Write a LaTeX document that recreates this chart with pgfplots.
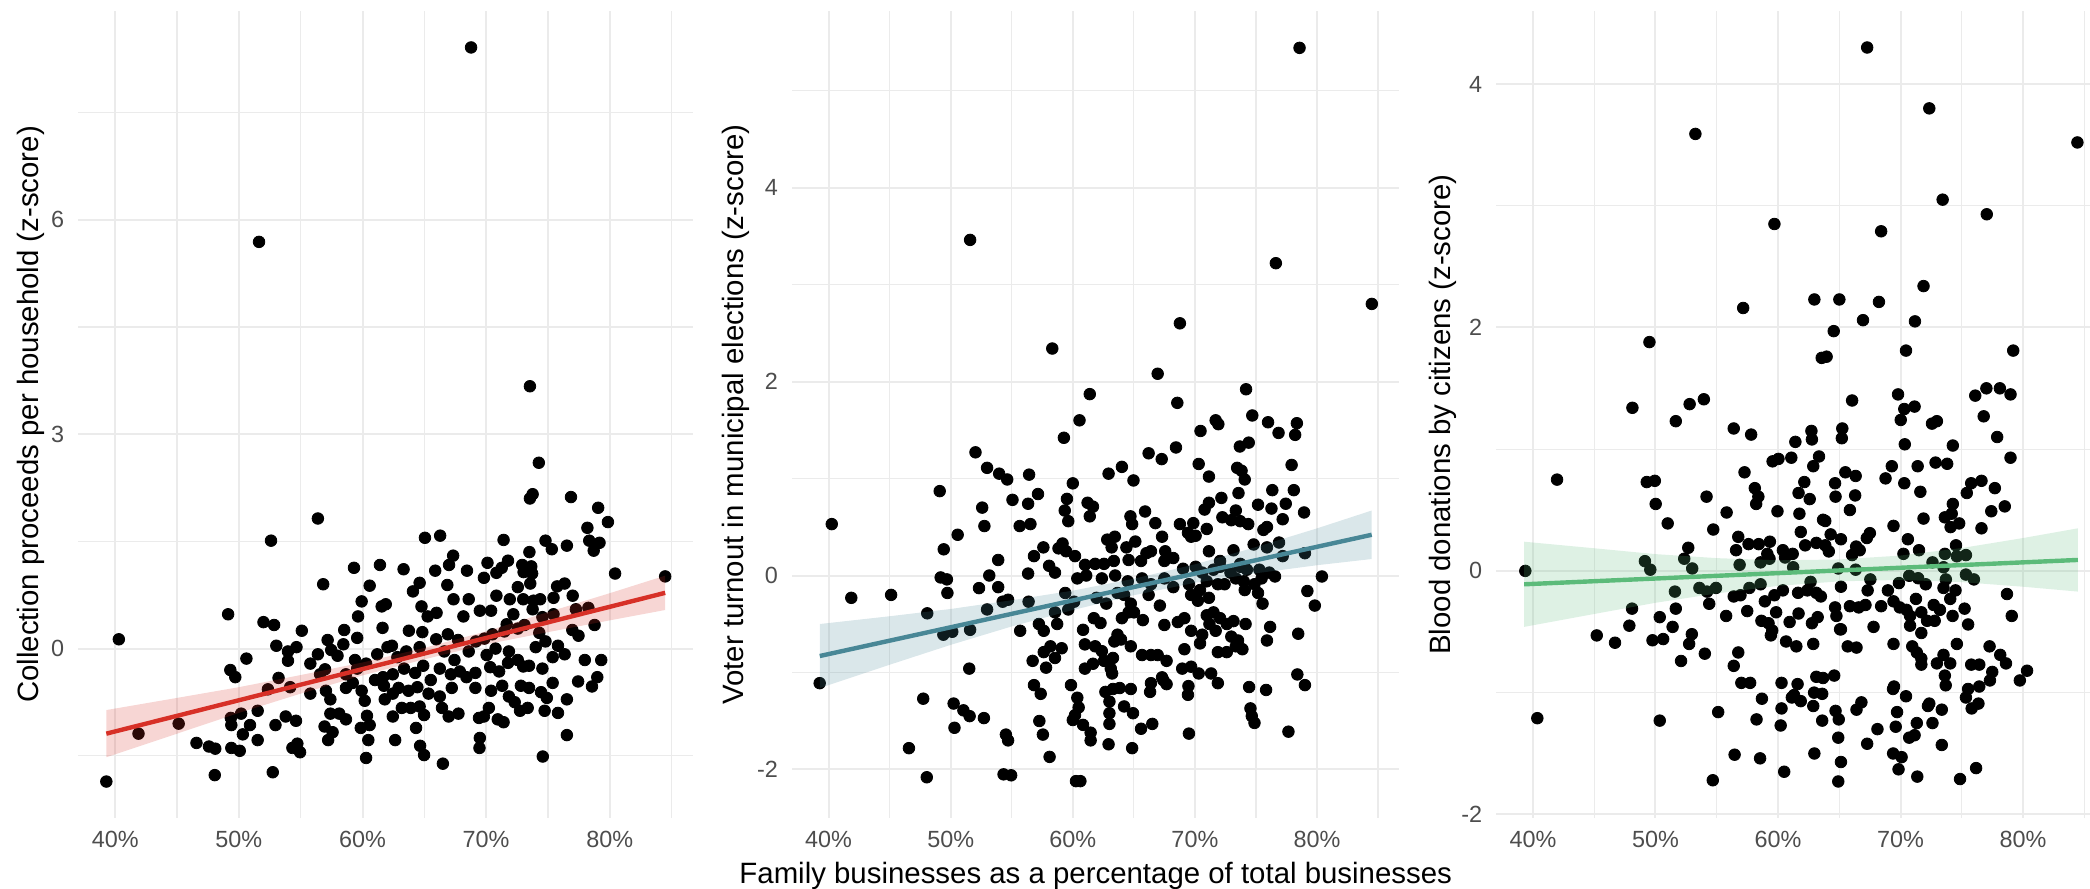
\documentclass[border=0pt]{standalone}
\usepackage{pgfplots}
\pgfplotsset{compat=1.18}
\usepackage{fontspec}
\setmainfont{Liberation Sans}
\definecolor{gridc}{HTML}{EBEBEB}
\definecolor{tickc}{HTML}{4D4D4D}
\definecolor{redl}{RGB}{215,48,39}
\definecolor{bluel}{RGB}{72,135,150}
\definecolor{greenl}{RGB}{92,187,122}
\pgfplotsset{
 panel/.style={
  scale only axis, height=403.5pt, anchor=south west,
  xmin=37.02, xmax=86.74,
  xtick={40,50,60,70,80}, xticklabels={40\%,50\%,60\%,70\%,80\%},
  minor xtick={45,55,65,75,85},
  grid=both,
  major grid style={gridc, line width=1pt},
  minor grid style={gridc, line width=0.6pt},
  axis line style={draw=none},
  tick style={draw=none},
  ticklabel style={font=\fontsize{11.7}{14}\selectfont, text=tickc},
  xticklabel style={anchor=base, yshift=-14.7pt, inner sep=0pt},
  yticklabel style={anchor=east, inner sep=0pt, xshift=-6.9pt},
  clip marker paths=true,
 },
 pts/.style={only marks, mark=*, mark size=2.9pt, mark options={fill=black, draw=none}},
}
\begin{document}
\begin{tikzpicture}
\path[use as bounding box] (0,0) rectangle (1045pt,444.5pt);
% Panel 1
\begin{axis}[panel, at={(39.2pt,35.5pt)}, width=307.35pt,
  ymin=-2.37, ymax=8.92, ytick={0,3,6}, yticklabels={0,3,6}, minor ytick={-1.5,1.5,4.5,7.5}]
\addplot[pts] coordinates {(68.78,8.41)(51.63,5.69)(73.54,3.67)(74.26,2.60)(73.54,2.10)(73.76,2.16)(76.86,2.12)(56.39,1.82)(52.60,1.51)(65.05,1.55)(66.28,1.58)(71.41,1.52)(74.80,1.51)(75.31,1.39)(76.53,1.44)(79.06,1.97)(79.85,1.77)(78.19,1.69)(78.34,1.51)(79.17,1.48)(78.70,1.37)(73.50,1.35)(67.33,1.30)(67.00,1.17)(68.45,1.09)(70.11,1.20)(71.26,1.13)(71.77,1.23)(72.92,1.17)(73.65,1.15)(73.03,1.07)(73.72,1.05)(61.41,1.17)(59.31,1.13)(63.32,1.11)(80.43,1.05)(84.48,1.01)(65.88,1.09)(56.82,0.90)(60.58,0.88)(64.62,0.92)(64.08,0.80)(66.86,0.89)(69.82,0.99)(70.83,1.06)(72.56,0.86)(73.57,0.91)(76.35,0.91)(75.74,0.87)(68.59,0.69)(67.36,0.69)(70.83,0.74)(71.91,0.69)(73.00,0.69)(73.83,0.67)(74.37,0.69)(75.45,0.71)(77.00,0.74)(49.13,0.48)(59.93,0.66)(59.64,0.45)(61.55,0.59)(61.88,0.62)(64.77,0.59)(65.99,0.50)(65.27,0.45)(68.16,0.45)(69.49,0.53)(70.40,0.53)(72.20,0.48)(71.66,0.34)(73.76,0.55)(74.55,0.44)(75.45,0.48)(77.26,0.55)(78.27,0.57)(51.99,0.37)(52.85,0.33)(55.09,0.25)(57.18,0.12)(58.45,0.06)(58.52,0.26)(59.57,0.15)(61.62,0.29)(63.75,0.25)(64.84,0.23)(66.90,0.20)(67.73,0.12)(69.17,0.10)(69.86,0.14)(70.51,0.20)(71.48,0.24)(72.56,0.28)(73.10,0.33)(74.30,0.22)(74.80,0.10)(76.97,0.26)(77.47,0.18)(78.77,0.33)(53.03,0.04)(53.97,-0.04)(54.66,0.02)(50.61,-0.14)(53.97,-0.17)(56.39,-0.08)(57.47,-0.02)(57.98,-0.10)(59.39,-0.16)(61.19,-0.08)(62.02,0.02)(62.38,0.04)(62.82,-0.12)(63.54,-0.04)(64.62,0.02)(65.96,0.13)(66.61,-0.04)(67.44,-0.16)(68.59,-0.04)(70.04,-0.09)(70.76,0.00)(71.84,-0.04)(72.56,-0.16)(74.01,0.02)(75.81,0.04)(76.35,-0.08)(79.31,-0.16)(77.98,-0.16)(75.38,-0.12)(49.31,-0.30)(49.71,-0.40)(53.21,-0.41)(55.78,-0.21)(56.57,-0.36)(56.97,-0.29)(58.66,-0.36)(59.57,-0.28)(60.29,-0.21)(61.01,-0.44)(61.66,-0.40)(62.45,-0.36)(63.36,-0.28)(64.26,-0.34)(64.91,-0.24)(65.52,-0.44)(66.25,-0.28)(67.15,-0.36)(67.87,-0.32)(68.41,-0.40)(69.13,-0.34)(70.33,-0.26)(71.05,-0.32)(71.77,-0.20)(73.00,-0.25)(73.47,-0.24)(74.55,-0.28)(75.38,-0.48)(78.99,-0.40)(78.56,-0.53)(77.44,-0.46)(52.35,-0.57)(54.15,-0.54)(55.78,-0.63)(57.04,-0.59)(57.40,-0.71)(58.66,-0.55)(59.21,-0.48)(59.93,-0.59)(61.73,-0.52)(62.45,-0.63)(62.92,-0.55)(63.72,-0.59)(64.44,-0.54)(65.34,-0.63)(66.25,-0.67)(67.22,-0.55)(69.13,-0.55)(70.40,-0.59)(71.30,-0.52)(71.84,-0.67)(72.81,-0.52)(73.47,-0.55)(74.44,-0.61)(74.91,-0.69)(76.53,-0.71)(49.35,-0.97)(50.18,-0.91)(51.52,-0.87)(50.90,-1.07)(53.79,-0.95)(54.62,-1.01)(57.40,-0.91)(58.12,-0.91)(58.66,-0.99)(60.18,-0.73)(60.36,-0.94)(61.80,-0.71)(62.45,-0.95)(63.18,-0.83)(63.90,-0.83)(64.62,-0.81)(64.98,-0.93)(66.43,-0.83)(66.97,-0.95)(67.76,-0.91)(69.42,-0.97)(70.22,-0.83)(70.94,-0.99)(71.41,-1.03)(72.31,-0.75)(72.74,-0.87)(73.36,-0.83)(74.73,-0.87)(75.81,-0.90)(45.13,-1.05)(41.88,-1.19)(49.39,-1.07)(52.96,-1.07)(56.93,-1.09)(57.58,-1.17)(59.86,-1.11)(60.58,-1.07)(64.33,-1.11)(69.82,-0.95)(46.57,-1.32)(47.58,-1.37)(48.09,-1.40)(49.39,-1.39)(50.07,-1.43)(50.32,-1.20)(51.52,-1.28)(54.33,-1.39)(54.73,-1.33)(54.95,-1.45)(57.22,-1.28)(60.47,-1.28)(62.64,-1.28)(64.66,-1.36)(64.98,-1.49)(60.29,-1.53)(69.49,-1.25)(69.46,-1.39)(76.53,-1.21)(74.58,-1.51)(66.50,-1.61)(52.74,-1.73)(48.05,-1.77)(39.28,-1.86)(40.29,0.13)};
\addplot[fill=redl, fill opacity=0.2, draw=none] coordinates {(39.28,-1.52)(45,-1.19)(50,-0.90)(55,-0.63)(60,-0.375)(65,-0.15)(70,0.06)(75,0.23)(80,0.395)(84.48,0.54)(84.48,1.02)(80,0.775)(75,0.51)(70,0.24)(65,0.01)(60,-0.195)(55,-0.37)(50,-0.54)(45,-0.69)(39.28,-0.86)};
\addplot[redl, line width=2.2pt] coordinates {(39.28,-1.19)(84.48,0.78)};
\end{axis}
% Panel 2
\begin{axis}[panel, at={(396.1pt,35.5pt)}, width=303.55pt,
  ymin=-2.50, ymax=5.82, ytick={-2,0,2,4}, yticklabels={-2,0,2,4}, minor ytick={-1,1,3,5}]
\addplot[pts] coordinates {(78.57,5.44)(51.59,3.46)(76.63,3.22)(84.49,2.80)(68.77,2.60)(58.32,2.34)(66.95,2.08)(74.19,1.92)(61.39,1.87)(68.56,1.78)(60.55,1.60)(74.70,1.65)(75.99,1.58)(71.70,1.60)(71.92,1.56)(78.35,1.57)(78.21,1.45)(76.85,1.47)(70.46,1.49)(59.27,1.42)(73.68,1.33)(74.41,1.37)(66.21,1.26)(68.45,1.32)(67.28,1.20)(52.03,1.27)(52.98,1.11)(53.97,1.05)(54.63,0.99)(56.42,1.04)(57.15,0.84)(64.02,1.12)(62.93,1.05)(64.97,0.98)(70.31,1.15)(71.15,1.02)(73.46,1.11)(73.82,1.08)(74.08,0.99)(77.92,1.14)(49.10,0.87)(55.06,0.78)(56.34,0.74)(59.52,0.79)(59.34,0.67)(60.00,0.95)(61.21,0.75)(61.65,0.71)(61.39,0.61)(52.58,0.70)(52.76,0.51)(55.65,0.51)(56.53,0.53)(59.63,0.56)(65.92,0.66)(64.72,0.61)(64.86,0.53)(66.76,0.54)(72.17,0.80)(71.15,0.75)(70.79,0.68)(73.57,0.85)(73.35,0.67)(76.34,0.88)(77.44,0.74)(76.27,0.69)(77.19,0.58)(78.10,0.88)(78.94,0.65)(72.25,0.60)(72.98,0.57)(73.71,0.56)(74.37,0.53)(75.17,0.73)(75.90,0.50)(75.61,0.47)(50.57,0.42)(40.26,0.53)(49.43,0.27)(68.77,0.53)(69.87,0.54)(70.97,0.48)(70.06,0.41)(69.43,0.44)(69.69,0.40)(67.31,0.40)(63.44,0.40)(74.81,0.32)(76.89,0.34)(77.19,0.20)(75.90,0.29)(79.01,0.23)(57.59,0.29)(56.82,0.20)(58.83,0.28)(59.45,0.25)(59.16,0.33)(60.18,0.20)(62.82,0.37)(63.18,0.29)(64.39,0.29)(65.12,0.35)(66.03,0.23)(65.59,0.15)(66.40,0.25)(67.57,0.25)(71.15,0.25)(72.06,0.15)(73.16,0.26)(73.71,0.12)(53.89,0.16)(58.06,0.10)(58.54,0.03)(61.00,0.11)(61.83,0.12)(62.56,0.12)(63.36,0.15)(64.57,0.16)(67.50,0.15)(68.23,0.18)(69.03,0.07)(70.06,0.09)(70.60,0.03)(71.52,0.06)(72.06,0.09)(72.91,0.03)(73.71,0.09)(74.26,0.06)(75.28,0.06)(76.09,0.03)(76.56,-0.01)(80.40,-0.01)(49.18,-0.02)(49.69,-0.04)(53.16,0.00)(56.34,0.02)(60.37,-0.03)(61.10,0.00)(62.38,-0.03)(63.47,0.00)(64.50,-0.06)(65.67,-0.03)(66.40,-0.09)(67.50,-0.03)(68.23,-0.12)(69.51,-0.09)(70.42,-0.15)(70.97,-0.06)(71.88,-0.09)(72.43,-0.09)(73.35,-0.03)(74.00,-0.06)(74.88,-0.09)(75.46,-0.03)(74.08,-0.15)(75.17,-0.18)(79.21,-0.16)(52.32,-0.13)(49.73,-0.18)(53.89,-0.12)(54.26,-0.27)(54.70,-0.25)(41.86,-0.23)(45.12,-0.20)(59.38,-0.18)(60.11,-0.27)(59.63,-0.35)(61.94,-0.23)(62.74,-0.29)(63.66,-0.18)(64.20,-0.20)(64.75,-0.29)(65.01,-0.38)(66.21,-0.20)(67.13,-0.31)(69.69,-0.20)(70.24,-0.26)(71.15,-0.23)(75.54,-0.29)(79.82,-0.31)(56.38,-0.27)(52.98,-0.35)(48.08,-0.39)(58.54,-0.38)(58.72,-0.50)(61.72,-0.44)(62.27,-0.49)(64.02,-0.44)(64.57,-0.38)(65.74,-0.46)(67.50,-0.51)(68.60,-0.48)(69.14,-0.44)(70.97,-0.41)(71.52,-0.38)(72.06,-0.44)(72.61,-0.50)(73.16,-0.47)(74.15,-0.50)(71.19,-0.50)(71.70,-0.57)(57.22,-0.50)(57.62,-0.57)(51.59,-0.56)(55.69,-0.57)(69.69,-0.57)(70.60,-0.61)(70.42,-0.70)(76.16,-0.53)(75.90,-0.67)(78.46,-0.60)(49.40,-0.61)(50.13,-0.58)(60.84,-0.56)(60.99,-0.71)(63.66,-0.61)(63.95,-0.66)(63.40,-0.68)(64.75,-0.73)(72.98,-0.63)(73.53,-0.67)(73.35,-0.73)(73.89,-0.76)(58.17,-0.73)(59.09,-0.75)(61.83,-0.73)(62.38,-0.78)(69.14,-0.76)(72.61,-0.79)(57.62,-0.79)(58.54,-0.85)(60.99,-0.96)(61.65,-0.91)(62.56,-0.88)(63.29,-0.85)(63.11,-0.96)(65.67,-0.82)(66.40,-0.82)(66.95,-0.82)(67.68,-0.88)(71.88,-0.79)(56.71,-0.88)(57.81,-0.95)(51.52,-0.96)(68.96,-0.96)(69.69,-0.94)(70.31,-1.01)(71.33,-1.01)(71.88,-1.11)(67.31,-1.05)(66.40,-1.11)(67.42,-1.08)(67.68,-1.12)(63.22,-1.01)(69.47,-1.14)(69.43,-1.23)(78.39,-1.02)(79.01,-1.13)(56.82,-1.13)(57.37,-1.22)(59.85,-1.13)(62.67,-1.20)(63.29,-1.17)(63.84,-1.16)(64.75,-1.17)(66.33,-1.20)(74.44,-1.15)(75.83,-1.18)(60.37,-1.26)(60.48,-1.36)(60.18,-1.44)(63.00,-1.30)(63.00,-1.42)(64.20,-1.35)(64.93,-1.42)(74.55,-1.37)(74.66,-1.45)(74.88,-1.52)(50.24,-1.32)(51.04,-1.39)(51.55,-1.45)(52.72,-1.47)(47.75,-1.27)(50.31,-1.57)(57.26,-1.50)(60.00,-1.49)(60.84,-1.54)(63.00,-1.53)(65.59,-1.58)(66.51,-1.53)(57.55,-1.64)(54.52,-1.64)(54.70,-1.70)(61.46,-1.62)(61.46,-1.70)(69.51,-1.63)(77.66,-1.61)(62.93,-1.74)(64.86,-1.78)(46.58,-1.78)(58.10,-1.87)(48.04,-2.08)(54.33,-2.05)(54.95,-2.06)(60.26,-2.12)(60.62,-2.12)(39.27,-1.11)};
\addplot[fill=bluel, fill opacity=0.2, draw=none] coordinates {(39.28,-1.16)(45,-0.92)(50,-0.715)(55,-0.525)(60,-0.356)(65,-0.203)(70,-0.075)(75,0.023)(80,0.106)(84.48,0.17)(84.48,0.67)(80,0.486)(75,0.293)(70,0.115)(65,-0.033)(60,-0.156)(55,-0.255)(50,-0.345)(45,-0.42)(39.28,-0.50)};
\addplot[bluel, line width=2.2pt] coordinates {(39.28,-0.83)(84.48,0.42)};
\end{axis}
% Panel 3
\begin{axis}[panel, at={(748.2pt,35.5pt)}, width=304.6pt,
  ymin=-2.03, ymax=4.60, ytick={-2,0,2,4}, yticklabels={-2,0,2,4}, minor ytick={-1,1,3}]
\addplot[pts] coordinates {(67.28,4.30)(72.35,3.80)(53.26,3.59)(84.44,3.52)(73.44,3.05)(77.04,2.93)(59.71,2.85)(68.42,2.79)(71.88,2.34)(62.97,2.23)(65.01,2.23)(68.24,2.21)(57.16,2.16)(66.94,2.06)(71.18,2.05)(64.55,1.97)(49.51,1.88)(70.45,1.81)(79.20,1.81)(63.57,1.75)(63.97,1.76)(48.12,1.34)(52.79,1.37)(53.95,1.41)(66.05,1.40)(69.80,1.45)(76.10,1.44)(77.01,1.50)(78.11,1.50)(78.98,1.45)(70.31,1.33)(71.15,1.35)(70.02,1.24)(72.57,1.21)(72.97,1.23)(76.79,1.27)(51.66,1.23)(56.39,1.17)(57.81,1.12)(62.73,1.15)(62.77,1.08)(65.25,1.17)(65.21,1.09)(61.42,1.06)(70.35,1.04)(77.89,1.10)(74.27,1.03)(59.56,0.90)(60.04,0.92)(61.09,0.93)(63.35,0.94)(78.98,0.93)(69.29,0.86)(68.78,0.76)(71.40,0.86)(72.86,0.89)(73.81,0.88)(57.27,0.81)(65.50,0.81)(66.34,0.78)(62.15,0.73)(62.88,0.86)(64.66,0.72)(70.31,0.72)(75.77,0.72)(76.61,0.74)(77.70,0.68)(41.97,0.75)(49.29,0.73)(49.95,0.74)(58.11,0.68)(58.40,0.61)(58.22,0.55)(61.68,0.64)(62.59,0.59)(64.70,0.61)(66.30,0.62)(71.62,0.65)(75.41,0.64)(54.17,0.61)(50.02,0.55)(78.51,0.53)(74.27,0.55)(77.41,0.49)(55.81,0.48)(59.96,0.49)(61.75,0.47)(65.87,0.50)(71.88,0.43)(73.62,0.44)(74.18,0.47)(74.79,0.39)(74.09,0.36)(51.00,0.39)(63.68,0.42)(63.86,0.41)(69.43,0.37)(76.61,0.35)(54.72,0.34)(61.86,0.32)(64.30,0.30)(67.50,0.31)(67.25,0.27)(56.76,0.28)(57.60,0.22)(56.58,0.17)(58.43,0.22)(59.34,0.24)(59.13,0.14)(62.22,0.21)(63.13,0.23)(63.86,0.21)(65.14,0.26)(66.38,0.20)(70.60,0.26)(74.53,0.21)(52.68,0.19)(60.40,0.17)(60.58,0.11)(61.20,0.14)(64.15,0.16)(66.05,0.13)(66.67,0.17)(70.24,0.14)(71.51,0.17)(73.62,0.14)(74.60,0.12)(75.34,0.13)(49.14,0.08)(49.58,0.01)(52.35,0.10)(53.00,0.02)(56.87,0.05)(58.58,0.07)(59.31,0.10)(61.24,0.03)(64.92,0.02)(66.34,0.01)(72.61,0.07)(73.51,0.03)(75.34,-0.03)(75.99,-0.07)(39.38,0.00)(67.54,-0.07)(69.87,-0.10)(70.71,-0.04)(71.44,-0.06)(72.06,-0.11)(73.70,-0.07)(73.51,-0.14)(53.59,-0.14)(54.21,-0.17)(54.94,-0.14)(57.67,-0.14)(58.58,-0.11)(60.40,-0.16)(62.66,-0.09)(62.40,-0.16)(63.13,-0.18)(65.14,-0.13)(51.59,-0.17)(74.49,-0.16)(78.69,-0.19)(67.32,-0.16)(56.39,-0.21)(56.94,-0.20)(59.71,-0.20)(61.64,-0.18)(63.50,-0.21)(68.97,-0.16)(69.43,-0.25)(68.42,-0.29)(71.26,-0.23)(74.06,-0.23)(54.39,-0.27)(58.93,-0.25)(65.87,-0.29)(66.59,-0.30)(67.14,-0.28)(69.94,-0.30)(70.49,-0.32)(72.71,-0.28)(73.22,-0.32)(75.23,-0.31)(48.09,-0.31)(51.66,-0.31)(57.49,-0.33)(59.85,-0.34)(64.66,-0.30)(64.77,-0.37)(71.70,-0.34)(74.25,-0.37)(79.08,-0.37)(50.35,-0.38)(55.77,-0.37)(61.68,-0.35)(63.24,-0.38)(70.78,-0.37)(58.65,-0.41)(59.23,-0.43)(60.95,-0.42)(72.17,-0.41)(72.79,-0.41)(75.52,-0.44)(65.07,-0.48)(67.80,-0.46)(47.87,-0.45)(51.40,-0.46)(59.53,-0.49)(59.42,-0.53)(62.77,-0.43)(62.88,-0.60)(70.78,-0.45)(71.70,-0.51)(60.66,-0.58)(45.21,-0.53)(46.70,-0.59)(49.76,-0.57)(50.63,-0.56)(52.97,-0.52)(52.75,-0.60)(54.03,-0.68)(65.14,-0.48)(65.69,-0.62)(66.41,-0.63)(61.50,-0.62)(69.43,-0.60)(70.96,-0.62)(71.33,-0.67)(71.70,-0.72)(74.60,-0.60)(77.27,-0.62)(72.97,-0.76)(73.51,-0.69)(74.06,-0.76)(78.14,-0.69)(78.61,-0.76)(75.77,-0.77)(76.43,-0.77)(56.76,-0.67)(56.39,-0.78)(52.09,-0.74)(71.70,-0.77)(77.49,-0.83)(73.62,-0.86)(73.69,-0.94)(79.74,-0.90)(80.33,-0.82)(77.30,-0.90)(57.01,-0.92)(57.73,-0.92)(60.29,-0.92)(63.13,-0.87)(63.68,-0.88)(64.59,-0.86)(61.60,-0.93)(61.31,-1.02)(61.86,-1.07)(61.13,-1.04)(62.95,-1.00)(63.61,-1.01)(58.69,-1.05)(69.47,-0.95)(69.39,-0.97)(75.52,-0.97)(75.34,-1.04)(76.43,-0.95)(76.36,-1.09)(70.45,-1.03)(66.81,-1.08)(66.41,-1.14)(62.88,-1.11)(72.24,-1.11)(72.35,-1.09)(73.37,-1.14)(64.70,-1.15)(64.96,-1.22)(60.29,-1.13)(75.81,-1.13)(40.36,-1.21)(50.35,-1.23)(58.25,-1.22)(63.61,-1.23)(60.22,-1.27)(69.72,-1.16)(69.61,-1.28)(71.33,-1.25)(72.61,-1.25)(68.12,-1.30)(70.71,-1.37)(71.15,-1.35)(64.92,-1.37)(73.37,-1.43)(67.28,-1.42)(62.97,-1.50)(56.46,-1.51)(58.54,-1.54)(69.40,-1.50)(70.09,-1.53)(65.14,-1.57)(60.51,-1.65)(69.84,-1.63)(76.17,-1.62)(54.68,-1.72)(64.92,-1.73)(71.37,-1.69)(74.86,-1.71)(55.12,-1.16)};
\addplot[fill=greenl, fill opacity=0.2, draw=none] coordinates {(39.28,-0.46)(45,-0.354)(50,-0.262)(55,-0.185)(60,-0.123)(65,-0.086)(70,-0.074)(75,-0.092)(80,-0.13)(84.48,-0.17)(84.48,0.35)(80,0.27)(75,0.188)(70,0.126)(65,0.094)(60,0.087)(55,0.105)(50,0.138)(45,0.186)(39.28,0.24)};
\addplot[greenl, line width=2.2pt] coordinates {(39.28,-0.11)(84.48,0.09)};
\end{axis}
\node[rotate=90, font=\fontsize{14.7}{17}\selectfont] at (15.6pt,237.25pt) {Collection proceeds per household (z-score)};
\node[rotate=90, font=\fontsize{14.7}{17}\selectfont] at (367.85pt,237.25pt) {Voter turnout in municipal elections (z-score)};
\node[rotate=90, font=\fontsize{14.7}{17}\selectfont] at (721.55pt,237.25pt) {Blood donations by citizens (z-score)};
\node[font=\fontsize{14.7}{17}\selectfont] at (547.85pt,6.5pt) {Family businesses as a percentage of total businesses};
\end{tikzpicture}
\end{document}
